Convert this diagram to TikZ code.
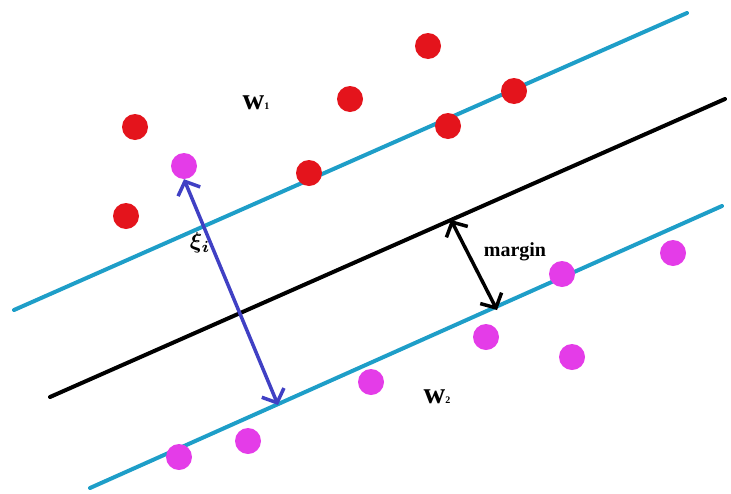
\documentclass[tikz,border=0pt]{standalone}
\usepackage{fontspec}
\newfontfamily\lblfont{Liberation Serif}
\usetikzlibrary{arrows.meta}
\definecolor{hypcyan}{RGB}{30,158,200}
\definecolor{dotred}{RGB}{228,20,28}
\definecolor{dotmag}{RGB}{228,60,232}
\definecolor{arrblue}{RGB}{64,64,196}
\tikzset{
  reddot/.style={circle,fill=dotred,minimum size=26pt,inner sep=0pt},
  magdot/.style={circle,fill=dotmag,minimum size=26pt,inner sep=0pt},
  hyp/.style={line width=4pt,line cap=round},
  dbl/.style={line width=3.5pt,{Straight Barb[length=11pt,width=24pt,line width=3.5pt]}-{Straight Barb[length=11pt,width=24pt,line width=3.5pt]}},
  lbl/.style={font=\lblfont\bfseries\fontsize{20}{22}\selectfont,inner sep=0pt},
  wlbl/.style={font=\lblfont\bfseries\fontsize{30}{32}\selectfont,inner sep=0pt}
}
\begin{document}
\begin{tikzpicture}[x=1pt,y=-1pt]
\useasboundingbox (0,0) rectangle (731,493);
% lines
\coordinate (u1) at (14,310);
\coordinate (u2) at (687,13);
\coordinate (b1) at (50,397);
\coordinate (b2) at (725,99);
\coordinate (l1) at (90,488);
\coordinate (l2) at (722,206);
\draw[hyp,hypcyan] (u1) -- (u2);
\draw[hyp,black] (b1) -- (b2);
\draw[hyp,hypcyan] (l1) -- (l2);
% red dots
\node[reddot] (r1) at (135,127) {};
\node[reddot] (r2) at (126,216) {};
\node[reddot] (r3) at (309,173) {};
\node[reddot] (r4) at (350,99) {};
\node[reddot] (r5) at (428,46) {};
\node[reddot] (r6) at (448,126) {};
\node[reddot] (r7) at (514,91) {};
% magenta dots
\node[magdot] (m1) at (184,166) {};
\node[magdot] (m2) at (562,274) {};
\node[magdot] (m3) at (673,253) {};
\node[magdot] (m4) at (486,337) {};
\node[magdot] (m5) at (572,357) {};
\node[magdot] (m6) at (371,382) {};
\node[magdot] (m7) at (179,457) {};
\node[magdot] (m8) at (248,441) {};
% arrows
\coordinate (xe) at (278,405);
\draw[dbl,arrblue] (m1.south) -- (xe);
\coordinate (ma) at (451,220);
\coordinate (mb) at (497,310);
\draw[dbl,black] (ma) -- (mb);
% labels
\node[wlbl] (w1) at (256,103) {w{\fontsize{10}{12}\selectfont 1}};
\node[wlbl] (w2) at (437,397) {w{\fontsize{10}{12}\selectfont 2}};
\node[inner sep=0pt] (xi) at (200,243) {\scalebox{2.3}{\boldmath$\xi_i$}};
\node[lbl] (mg) at (515,252) {margin};
\end{tikzpicture}
\end{document}
